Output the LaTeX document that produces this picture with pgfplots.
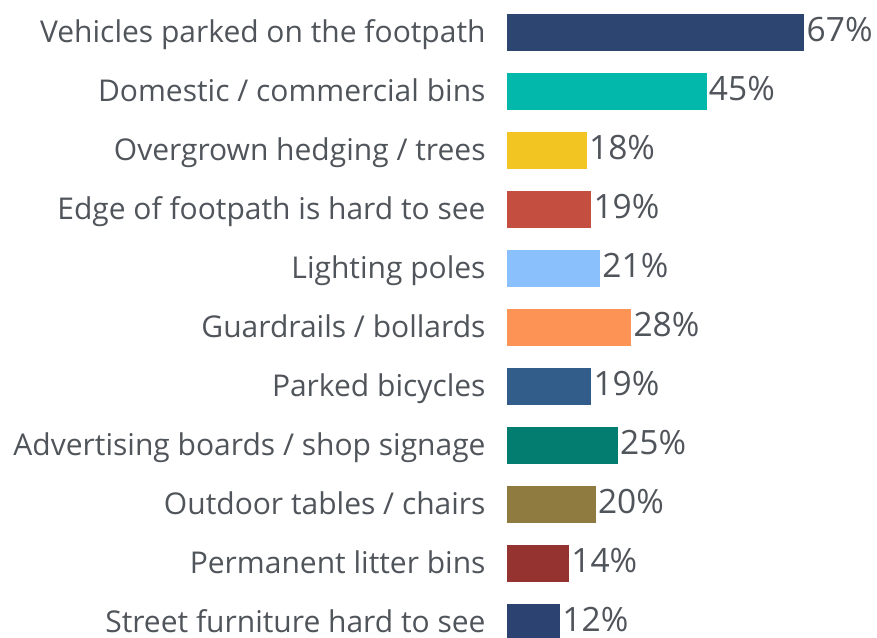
\documentclass[border=0pt]{standalone}
\usepackage{pgfplots}
\pgfplotsset{compat=1.18}
\usepackage{fontspec}
\setmainfont{Open Sans}
\definecolor{txt}{HTML}{50555B}
\definecolor{c1}{HTML}{2D4571}
\definecolor{c2}{HTML}{01B8AA}
\definecolor{c3}{HTML}{F2C523}
\definecolor{c4}{HTML}{C44E40}
\definecolor{c5}{HTML}{8AC0FC}
\definecolor{c6}{HTML}{FE9356}
\definecolor{c7}{HTML}{325D8B}
\definecolor{c8}{HTML}{047D71}
\definecolor{c9}{HTML}{8F7A40}
\definecolor{c10}{HTML}{943330}
\definecolor{c11}{HTML}{2C4372}
\begin{document}
\begin{tikzpicture}
\begin{axis}[
  at={(507pt,-14.5pt)}, anchor=south west,
  scale only axis, width=355.2pt, height=649pt,
  xmin=0, xmax=80, ymin=-0.5, ymax=10.5, y dir=reverse,
  xbar, bar width=37pt, bar shift=0pt,
  axis line style={draw=none},
  tick style={draw=none},
  xtick=\empty,
  clip=false,
  /pgf/number format/assume math mode=true,
  ytick={0,...,10},
  yticklabels={Vehicles parked on the footpath, Domestic / commercial bins, Overgrown hedging / trees, Edge of footpath is hard to see, Lighting poles, Guardrails / bollards, Parked bicycles, Advertising boards / shop signage, Outdoor tables / chairs, Permanent litter bins, Street furniture hard to see},
  yticklabel style={font=\fontsize{30}{36}\selectfont, text=txt, anchor=east, inner sep=0pt, xshift=-17pt, yshift=-3pt, text height=22pt, text depth=7pt},
  nodes near coords={\pgfmathprintnumber{\pgfplotspointmeta}\%},
  nodes near coords style={font=\fontsize{33.5}{40}\selectfont, text=txt, anchor=west, inner sep=0pt, xshift=2pt, yshift=-1pt, text height=24pt, text depth=7pt},
  point meta=x,
  every axis plot/.append style={draw=none},
]
\addplot[fill=c1] coordinates {(67,0)};
\addplot[fill=c2] coordinates {(45,1)};
\addplot[fill=c3] coordinates {(18,2)};
\addplot[fill=c4] coordinates {(19,3)};
\addplot[fill=c5] coordinates {(21,4)};
\addplot[fill=c6] coordinates {(28,5)};
\addplot[fill=c7] coordinates {(19,6)};
\addplot[fill=c8] coordinates {(25,7)};
\addplot[fill=c9] coordinates {(20,8)};
\addplot[fill=c10] coordinates {(14,9)};
\addplot[fill=c11] coordinates {(12,10)};
\end{axis}
\pgfresetboundingbox
\useasboundingbox (0,0) rectangle (877pt,637pt);
\end{tikzpicture}
\end{document}
